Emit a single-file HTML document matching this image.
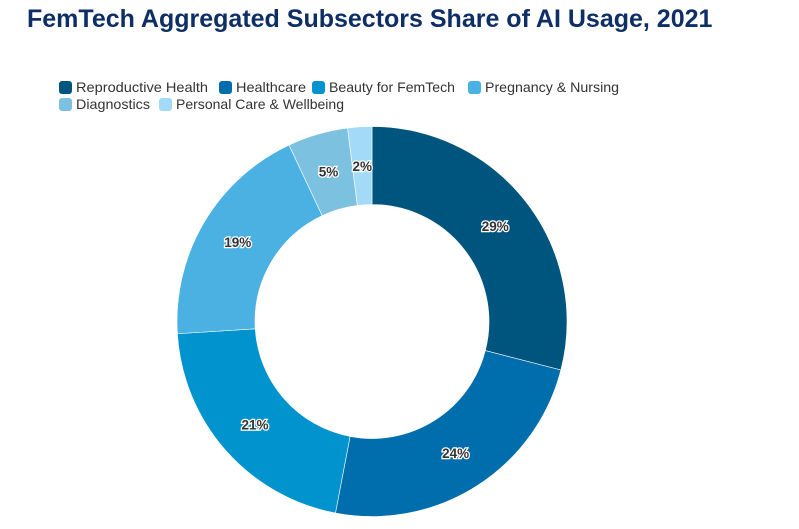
<!DOCTYPE html>
<html><head><meta charset="utf-8"><style>
body{margin:0;width:799px;height:529px;background:#fff;font-family:"Liberation Sans",sans-serif;overflow:hidden;position:relative}
#title{position:absolute;left:27px;top:5px;font-size:25px;font-weight:bold;color:#0d2f66;white-space:nowrap}
.leg{position:absolute;font-size:14px;color:#333;white-space:nowrap;display:flex;align-items:center}
.sw{width:13px;height:13px;border-radius:3px;margin-right:4px;display:inline-block}
svg{position:absolute;left:0;top:0}
</style></head><body>
<div id="title">FemTech Aggregated Subsectors Share of AI Usage, 2021</div>
<div id="legend"></div>
<svg id="chart" width="799" height="529"></svg>
<script>
const categories=["Reproductive Health","Healthcare","Beauty for FemTech","Pregnancy & Nursing","Diagnostics","Personal Care & Wellbeing"];
const values=[29,24,21,19,5,2];
const labels=["29%","24%","21%","19%","5%","2%"];
const colors=["#00557f","#006eac","#0093cd","#4ab1e2","#7cc2e0","#a3daf7"];
const legPos=[[59,88],[219,88],[312,88],[468,88],[59,105],[159,105]];
const legW=[132,70,126,134,74,168];
const lg=document.getElementById('legend');
categories.forEach((c,i)=>{
  const d=document.createElement('div');
  d.className='leg';
  
  
  d.style.left=legPos[i][0]+'px';d.style.top=(legPos[i][1]-9)+'px';
  d.innerHTML='<span class="sw" style="background:'+colors[i]+'"></span><span class="lt">'+c+'</span>';
  lg.appendChild(d);
  const lt=d.querySelector('.lt');
  const w=lt.getBoundingClientRect().width;
  lt.style.display='inline-block';
  lt.style.transformOrigin='0 50%';
  lt.style.transform='scaleX('+(legW[i]/w)+')';
});
const svg=document.getElementById('chart');
const NS='http://www.w3.org/2000/svg';
const cx=372,cy=321.5,R=195,r=117;
const total=values.reduce((a,b)=>a+b,0);
let a0=0;
function pt(a,rad){return [cx+rad*Math.sin(a),cy-rad*Math.cos(a)];}
values.forEach((v,i)=>{
  const a1=a0+v/total*2*Math.PI;
  const large=(a1-a0)>Math.PI?1:0;
  const p1=pt(a0,R),p2=pt(a1,R),p3=pt(a1,r),p4=pt(a0,r);
  const p=document.createElementNS(NS,'path');
  p.setAttribute('d',`M${p1}A${R},${R} 0 ${large} 1 ${p2}L${p3}A${r},${r} 0 ${large} 0 ${p4}Z`);
  p.setAttribute('fill',colors[i]);
  p.setAttribute('stroke','#fff');p.setAttribute('stroke-width','0.6');
  
  
  svg.appendChild(p);
  const am=(a0+a1)/2;const lp=pt(am,(R+r)/2);
  const t=document.createElementNS(NS,'text');
  t.setAttribute('x',lp[0]);t.setAttribute('y',lp[1]+5);
  t.setAttribute('text-anchor','middle');
  t.setAttribute('font-size','13.5');t.setAttribute('font-weight','bold');
  t.setAttribute('fill','#333');t.setAttribute('stroke','#fff');t.setAttribute('stroke-width','2.5');
  t.setAttribute('paint-order','stroke');
  
  
  t.textContent=labels[i];
  svg.appendChild(t);
  a0=a1;
});
</script>
</body></html>
